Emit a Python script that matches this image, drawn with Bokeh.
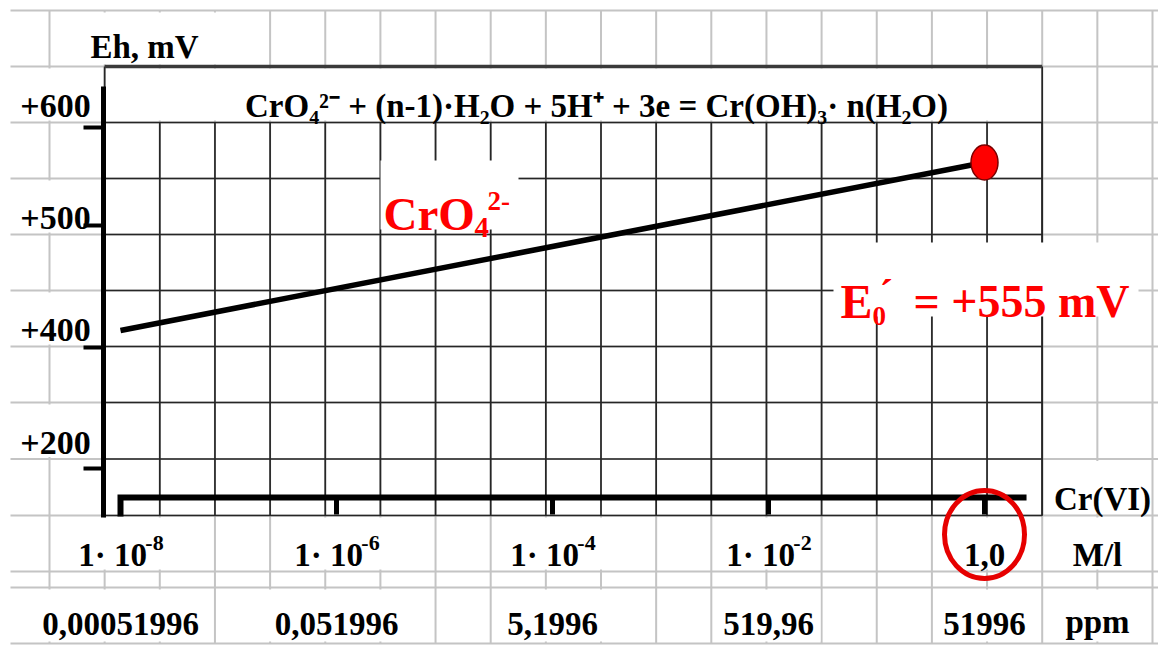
import numpy as np
from bokeh.plotting import figure
from bokeh.models import Range1d, LogScale
from bokeh.core.properties import value
from bokeh.embed import file_html
from bokeh.resources import INLINE

# ---------------- data ----------------
conc_M = [1e-8, 1.0]              # Cr(VI) concentration, mol/l
eh_mV = [397, 555]                # Eh, mV
e0_conc = [1.0]
e0_mV = [555]
tick_conc = [1e-8, 1e-6, 1e-4, 1e-2, 1.0]
molar_base = ["1· 10", "1· 10", "1· 10", "1· 10", "1,0"]
molar_exp = ["-8", "-6", "-4", "-2", ""]
ppm_labels = ["0,00051996", "0,051996", "5,1996", "519,96", "51996"]
eh_labels = ["+600", "+500", "+400", "+200"]
equation = "CrO₄²⁻ + (n-1)·H₂O + 5H⁺ + 3e = Cr(OH)₃· n(H₂O)"

# ---------------- layout ----------------
W, H = 1158, 646
FONT = value("Liberation Serif")
p = figure(width=W, height=H, x_range=Range1d(0, W), y_range=Range1d(H, 0),
           output_backend="svg", toolbar_location=None,
           x_axis_location=None, y_axis_location=None,
           min_border=0, outline_line_color=None, background_fill_color="white")
for r in list(p.center):
    r.visible = False

# data scales (pixel anchors of the chart frame)
x_left, x_right = 120.0, 984.0
y_top, y_bot = 162.0, 330.0
lo, hi = np.log10(conc_M[0]), np.log10(conc_M[-1])
ppd = (x_right - x_left) / (hi - lo)
p.extra_x_ranges = {"conc": Range1d(10 ** (hi - x_right / ppd),
                                    10 ** (hi + (W - x_right) / ppd))}
p.extra_x_scales = {"conc": LogScale()}
ppm_v = (y_bot - y_top) / (eh_mV[-1] - eh_mV[0])
p.extra_y_ranges = {"mv": Range1d(eh_mV[-1] - (H - y_top) / ppm_v,
                                  eh_mV[-1] + y_top / ppm_v)}

# spreadsheet grid
cols = [49 + 55.15 * k for k in range(21)]
rows = [10, 66, 122, 178, 234, 290, 346, 402, 458.5, 515, 571, 587, 643]
GRAY = "#c4c4c4"
DARK = "#262626"
p.segment(x0=[10] * len(rows), x1=[1158] * len(rows), y0=rows, y1=rows,
          line_color=GRAY, line_width=2)
p.segment(x0=cols, x1=cols, y0=[10] * len(cols), y1=[643] * len(cols),
          line_color=GRAY, line_width=2)

# white (merged) cells for the outer labels
cells_l, cells_r, cells_t, cells_b = [], [], [], []
def cell(l, r, t, b):
    cells_l.append(l); cells_r.append(r); cells_t.append(t); cells_b.append(b)

cell(52, 266, rows[0] + 2, rows[1] - 2)                 # Eh, mV
for ri in (1, 3, 5, 7):                                 # y labels
    cell(12, 100, rows[ri] + 2, rows[ri + 1] - 2)
cell(cols[1] + 2, cols[18] - 2, rows[1] + 2, rows[2] - 2)  # title row
for ri in (8, 9, 11):                                   # Cr(VI), M/l, ppm
    cell(cols[18] + 2, cols[20] - 2, rows[ri] + 2, rows[ri + 1] - 2)
p.quad(left=cells_l, right=cells_r, top=cells_t, bottom=cells_b,
       fill_color="white", line_color=None)

# white cells under the tick labels (positioned on the concentration scale)
mol_half = [50, 50, 50, 50, 28]
ppm_half = [92, 72, 52, 52, 48]
tick_log = np.log10(tick_conc)
xpix = x_right + (tick_log - hi) * ppd
p.quad(left=list(xpix - np.array(mol_half)), right=list(xpix + np.array(mol_half)),
       top=[rows[9] + 2] * 5, bottom=[rows[10] - 2] * 5, fill_color="white", line_color=None)
p.quad(left=list(xpix - np.array(ppm_half)), right=list(xpix + np.array(ppm_half)),
       top=[rows[11] + 2] * 5, bottom=[rows[12] - 2] * 5, fill_color="white", line_color=None)

# dark chart box grid
bl, br = cols[1], cols[18]
p.segment(x0=[bl] * 8, x1=[br] * 8, y0=rows[2:10], y1=rows[2:10], line_color=DARK, line_width=1.7)
p.segment(x0=cols[1:19], x1=cols[1:19], y0=[rows[2]] * 18, y1=[rows[9]] * 18,
          line_color=DARK, line_width=1.7)
p.segment(x0=[bl, br], x1=[bl, br], y0=[rows[1]] * 2, y1=[rows[9]] * 2, line_color=DARK, line_width=1.7)
p.segment(x0=[bl], x1=[br], y0=[rows[1]], y1=[rows[1]], line_color="#3a3a3a", line_width=3.5)

# white boxes behind the red annotations
p.quad(left=[380, 833], right=[518, 1138], top=[160, 242], bottom=[229, 316],
       fill_color="white", line_color=None)

# data line
p.line(x=conc_M, y=eh_mV, x_range_name="conc", y_range_name="mv",
       line_color="black", line_width=5.5)

# Eh axis
p.segment(x0=[103], x1=[103], y0=[86], y1=[517], line_color="black", line_width=5)
p.segment(x0=[83] * 4, x1=[103] * 4, y0=[127, 225, 347, 468], y1=[127, 225, 347, 468],
          line_color="black", line_width=4)

# Cr(VI) axis
p.line(x=[tick_conc[0], tick_conc[0], 2.45], y=[516, 497, 497], x_range_name="conc",
       line_color="black", line_width=6, line_join="miter")
p.segment(x0=tick_conc[1:], x1=tick_conc[1:], y0=[497] * 4, y1=[514] * 4,
          x_range_name="conc", line_color="black", line_width=5)

# E0 point
p.ellipse(x=e0_conc, y=e0_mV, width=27, height=35, width_units="screen", height_units="screen",
          x_range_name="conc", y_range_name="mv", fill_color="#ff0000",
          line_color="#7a0000", line_width=1.5)

# texts
TXT = dict(text_font=FONT, text_font_style="bold", text_color="black")
p.text(x=[90], y=[46], text=["Eh, mV"], text_font_size="33px", text_align="left",
       text_baseline="alphabetic", **TXT)
p.text(x=[55] * 4, y=[105, 217, 329, 442], text=eh_labels, text_font_size="34px",
       text_align="center", text_baseline="alphabetic", **TXT)
p.text(x=[596], y=[105], text=[equation], text_font_size="33px", text_align="center",
       text_baseline="alphabetic", **TXT)

# molar tick labels: base text + raised exponent
BASE_PX, SUP_PX = 33, 22
base_w = [2.0 * BASE_PX if e else 1.25 * BASE_PX for e in molar_exp]
sup_w = [0.833 * SUP_PX if e else 0 for e in molar_exp]
base_off = [-(b + s) / 2 for b, s in zip(base_w, sup_w)]
p.text(x=tick_conc, y=[554] * 5, text=molar_base, x_range_name="conc", x_offset=base_off,
       text_font_size=f"{BASE_PX}px", text_align="left", text_baseline="alphabetic", **TXT)
sup_idx = [i for i, e in enumerate(molar_exp) if e]
p.text(x=[tick_conc[i] for i in sup_idx], y=[554] * len(sup_idx),
       text=[molar_exp[i] for i in sup_idx], x_range_name="conc",
       x_offset=[base_off[i] + base_w[i] + 1 for i in sup_idx], y_offset=-12,
       text_font_size=f"{SUP_PX}px", text_align="left", text_baseline="alphabetic", **TXT)

p.text(x=tick_conc, y=[623] * 5, text=ppm_labels, x_range_name="conc",
       text_font_size="33px", text_align="center", text_baseline="alphabetic", **TXT)
p.text(x=[1102, 1097, 1097], y=[498, 554, 621], text=["Cr(VI)", "M/l", "ppm"],
       text_font_size="33px", text_align="center", text_baseline="alphabetic", **TXT)

RED = "#ff0000"
RTXT = dict(text_font=FONT, text_font_style="bold", text_color=RED,
            text_baseline="alphabetic", text_align="left")
p.text(x=[383], y=[213], text=["CrO"], text_font_size="47px", **RTXT)
p.text(x=[474], y=[227], text=["4"], text_font_size="29px", **RTXT)
p.text(x=[487], y=[200], text=["2-"], text_font_size="27px", **RTXT)
p.text(x=[840], y=[301], text=["E"], text_font_size="48px", **RTXT)
p.text(x=[872], y=[315], text=["0"], text_font_size="27px", **RTXT)
p.text(x=[879], y=[293], text=["´"], text_font_size="40px", **RTXT)
p.text(x=[913], y=[301], text=["= +555 mV"], text_font_size="46px", **RTXT)

# red ring around 1,0
p.ellipse(x=[tick_conc[-1]], y=[534], width=80, height=88, width_units="screen",
          height_units="screen", x_range_name="conc", fill_color=None,
          line_color="#e60000", line_width=5)

open("out.html", "w").write(file_html(p, INLINE))
